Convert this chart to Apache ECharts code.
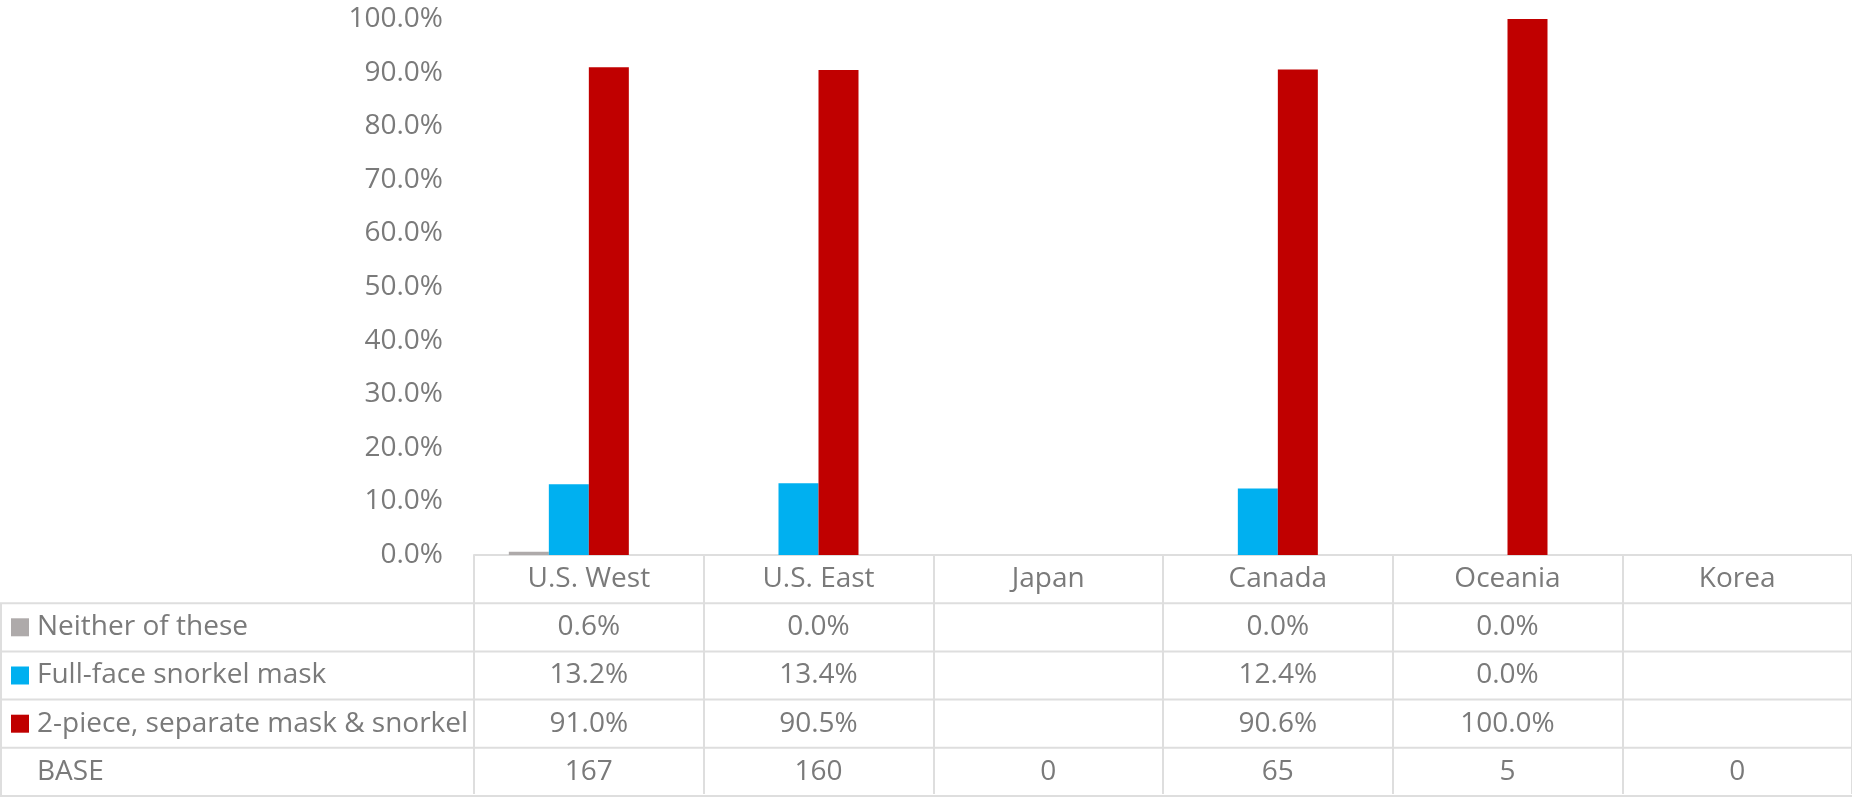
<!DOCTYPE html>
<html>
<head>
<meta charset="utf-8">
<script src="https://cdn.jsdelivr.net/npm/echarts@6/dist/echarts.min.js"></script>
<style>
html,body{margin:0;padding:0;background:#fff;}
#chart{width:1852px;height:798px;}
</style>
</head>
<body>
<div id="chart"></div>
<script>
const categories = ['U.S. West', 'U.S. East', 'Japan', 'Canada', 'Oceania', 'Korea'];
const seriesNames = ['Neither of these', 'Full-face snorkel mask', '2-piece, separate mask & snorkel'];
const neither = [0.6, 0.0, null, 0.0, 0.0, null];
const fullFace = [13.2, 13.4, null, 12.4, 0.0, null];
const twoPiece = [91.0, 90.5, null, 90.6, 100.0, null];
const baseLabel = 'BASE';
const base = [167, 160, 0, 65, 5, 0];
const yTicks = [0, 10, 20, 30, 40, 50, 60, 70, 80, 90, 100];

const colors = ['#aeaaaa', '#00b0f0', '#c00000'];
const TEXT = '#7a7a7a';
const LINE = '#dedede';
const FONT = '"Open Sans", sans-serif';
const FS = 28;
const ROW = 48.2;
const AXIS_Y = 555;
const W = 1852, H = 798;

const values = [neither, fullFace, twoPiece];

const chart = echarts.init(document.getElementById('chart'));

function cellText(v) { return v == null ? '\u00a0' : v.toFixed(1) + '%'; }

const rowLines = [];
for (let k = 1; k <= 5; k++) {
  const y = AXIS_Y + k * ROW;
  rowLines.push({ type: 'line', silent: true, shape: { x1: 0, y1: y, x2: W, y2: y }, style: { stroke: LINE, lineWidth: 2 } });
}
rowLines.push({ type: 'line', silent: true, shape: { x1: 1, y1: AXIS_Y + ROW, x2: 1, y2: AXIS_Y + 5 * ROW }, style: { stroke: LINE, lineWidth: 2 } });

const series = values.map((vals, i) => ({
  name: seriesNames[i],
  type: 'bar',
  data: vals,
  barWidth: 40,
  barGap: '0%',
  itemStyle: { color: colors[i] },
  emphasis: { disabled: true }
}));
series.push({
  name: baseLabel,
  type: 'bar',
  data: [],
  barWidth: 40,
  barGap: '0%',
  itemStyle: { color: 'transparent' }
});

chart.setOption({
  animation: false,
  grid: { left: 474, right: 0, top: 19, bottom: H - AXIS_Y, containLabel: false },
  legend: {
    orient: 'vertical',
    left: 11,
    top: AXIS_Y + ROW,
    padding: 0,
    itemGap: 0,
    itemWidth: 18,
    itemHeight: 18,
    selectedMode: false,
    icon: 'rect',
    data: seriesNames.concat([baseLabel]),
    textStyle: { color: TEXT, fontSize: FS, fontFamily: FONT, lineHeight: ROW, padding: [0, 0, 0, 3] }
  },
  xAxis: {
    type: 'category',
    data: categories,
    axisLine: { show: true, lineStyle: { color: LINE, width: 2 } },
    axisTick: { show: true, interval: 0, length: 5 * ROW - 2, lineStyle: { color: LINE, width: 2 } },
    axisLabel: {
      interval: 0,
      margin: 0,
      color: TEXT,
      fontSize: FS,
      fontFamily: FONT,
      lineHeight: ROW,
      formatter: function (val, idx) {
        const lines = [val];
        values.forEach(arr => lines.push(cellText(arr[idx])));
        lines.push(String(base[idx]));
        return lines.join('\n');
      }
    },
    splitLine: { show: false }
  },
  yAxis: {
    type: 'value',
    min: yTicks[0],
    max: yTicks[yTicks.length - 1],
    interval: yTicks[1] - yTicks[0],
    axisLine: { show: false },
    axisTick: { show: false },
    splitLine: { show: false },
    axisLabel: {
      margin: 31,
      color: TEXT,
      fontSize: FS,
      fontFamily: FONT,
      formatter: v => v.toFixed(1) + '%'
    }
  },
  graphic: rowLines,
  series: series
});
</script>
</body>
</html>
